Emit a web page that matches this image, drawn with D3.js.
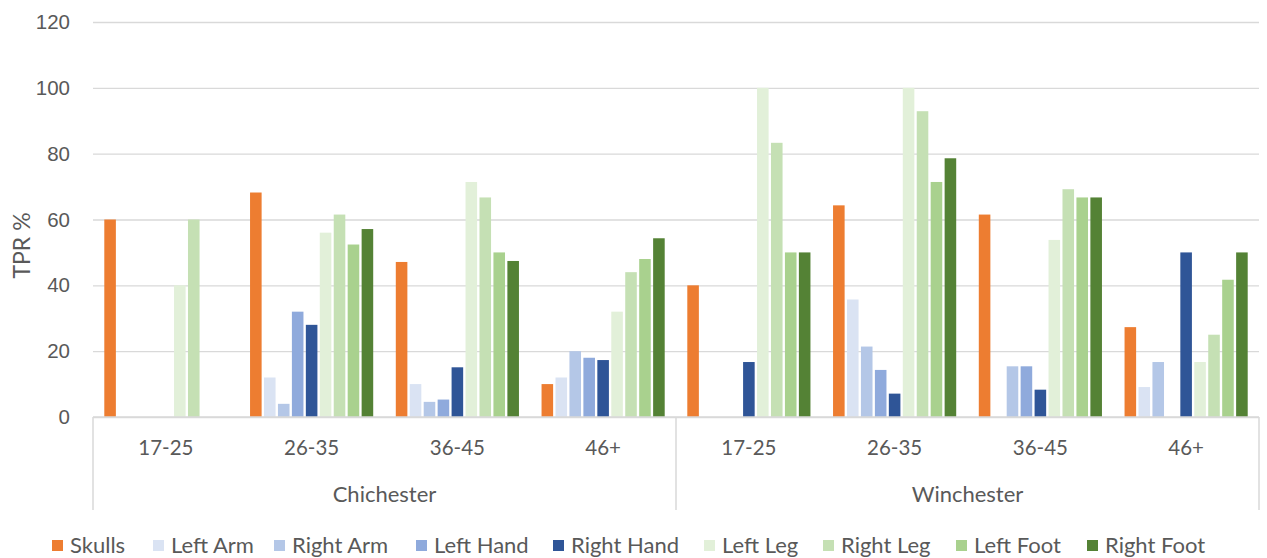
<!DOCTYPE html>
<html>
<head>
<meta charset="utf-8">
<script src="https://cdn.jsdelivr.net/npm/d3@7"></script>
<style>
  html, body { margin: 0; padding: 0; background: #fff; }
  svg { display: block; font-family: Lato, "Open Sans", sans-serif; }
</style>
</head>
<body>
<svg id="chart" width="1267" height="558"></svg>
<script>
// Sites and age bands (two-level category axis)
const sites = ["Chichester", "Winchester"];
const ageBands = ["17-25", "26-35", "36-45", "46+"];

// Skeletal elements (series)
const seriesNames = ["Skulls", "Left Arm", "Right Arm", "Left Hand", "Right Hand",
                     "Left Leg", "Right Leg", "Left Foot", "Right Foot"];
const seriesColors = ["#ED7D31", "#DAE3F3", "#B4C7E7", "#8FAADC", "#2F5597",
                      "#E2F0D9", "#C5E0B4", "#A9D18E", "#548235"];

// TPR % per series, one entry per site/age band (Chichester 17-25 ... Winchester 46+)
const skulls    = [60, 68.2, 47.1, 10,   40,   64.3, 61.5, 27.3];
const leftArm   = [0,  12,   10,   12,   0,    35.7, 0,    9.1];
const rightArm  = [0,  4,    4.6,  20,   0,    21.4, 15.4, 16.7];
const leftHand  = [0,  32,   5.3,  18,   0,    14.3, 15.4, 0];
const rightHand = [0,  28,   15.1, 17.3, 16.7, 7.1,  8.3,  50];
const leftLeg   = [40, 56,   71.4, 32,   100,  100,  53.8, 16.7];
const rightLeg  = [60, 61.5, 66.7, 44,   83.3, 92.9, 69.2, 25];
const leftFoot  = [0,  52.4, 50,   48,   50,   71.4, 66.7, 41.7];
const rightFoot = [0,  57.1, 47.4, 54.3, 50,   78.6, 66.7, 50];

const yTicks = [0, 20, 40, 60, 80, 100, 120];

const seriesValues = [skulls, leftArm, rightArm, leftHand, rightHand,
                      leftLeg, rightLeg, leftFoot, rightFoot];

// Flat category list: site|age
const categories = [];
sites.forEach(s => ageBands.forEach(a => categories.push({ site: s, age: a, key: s + "|" + a })));

const svg = d3.select("#chart");
const textColor = "#595959";
const gridColor = "#D9D9D9";

const plot = { left: 93, right: 1259, top: 22, bottom: 417 };

const x0 = d3.scaleBand()
  .domain(categories.map(c => c.key))
  .range([plot.left, plot.right])
  .padding(0);

const bw = x0.bandwidth();
const clusterPad = bw * 0.0775;
const x1 = d3.scaleBand()
  .domain(seriesNames)
  .range([clusterPad, bw - clusterPad])
  .paddingInner(0.17)
  .paddingOuter(0);

const y = d3.scaleLinear().domain([0, 120]).range([plot.bottom, plot.top]);

// Horizontal gridlines + value labels
const yAxis = d3.axisLeft(y)
  .tickValues(yTicks)
  .tickSize(-(plot.right - plot.left))
  .tickPadding(23)
  .tickFormat(d3.format("d"));

const gy = svg.append("g")
  .attr("transform", `translate(${plot.left},0)`)
  .call(yAxis);
gy.select(".domain").remove();
gy.selectAll(".tick line")
  .attr("stroke", gridColor)
  .attr("stroke-width", 1.3);
gy.selectAll(".tick text")
  .attr("fill", textColor)
  .attr("font-size", 20.5);

// Y axis title
svg.append("text")
  .attr("transform", `translate(30,${(plot.top + plot.bottom) / 2 + 26}) rotate(-90)`)
  .attr("text-anchor", "middle")
  .attr("fill", textColor)
  .attr("font-size", 23)
  .text("TPR %");

// Bars
const catGroups = svg.append("g").selectAll("g")
  .data(categories)
  .join("g")
  .attr("transform", d => `translate(${x0(d.key)},0)`);

catGroups.selectAll("rect")
  .data((d, i) => seriesNames.map((name, s) => ({ name, s, value: seriesValues[s][i] })))
  .join("rect")
  .filter(d => d.value > 0)
  .attr("x", d => x1(d.name))
  .attr("width", x1.bandwidth())
  .attr("y", d => y(d.value))
  .attr("height", d => y(0) - y(d.value))
  .attr("fill", d => seriesColors[d.s]);

// Baseline
svg.append("line")
  .attr("x1", plot.left).attr("x2", plot.right)
  .attr("y1", plot.bottom).attr("y2", plot.bottom)
  .attr("stroke", gridColor).attr("stroke-width", 1.5);

// Group separators of the two-level axis
const sepBottom = 510;
const sepXs = [plot.left, x0(categories[ageBands.length].key), plot.right];
svg.append("g").selectAll("line")
  .data(sepXs)
  .join("line")
  .attr("x1", d => d).attr("x2", d => d)
  .attr("y1", plot.bottom).attr("y2", sepBottom)
  .attr("stroke", gridColor).attr("stroke-width", 1.5);

// Age band labels
svg.append("g").selectAll("text")
  .data(categories)
  .join("text")
  .attr("x", d => x0(d.key) + bw / 2)
  .attr("y", 455)
  .attr("text-anchor", "middle")
  .attr("fill", textColor)
  .attr("font-size", 20.5)
  .text(d => d.age);

// Site labels
svg.append("g").selectAll("text")
  .data(sites)
  .join("text")
  .attr("x", (d, i) => {
    const first = x0(categories[i * ageBands.length].key);
    return first + bw * ageBands.length / 2;
  })
  .attr("y", 502)
  .attr("text-anchor", "middle")
  .attr("fill", textColor)
  .attr("font-size", 22)
  .text(d => d);

// Legend
const legendX = [52, 153, 274, 416, 553, 704, 823, 956, 1087];
const legend = svg.append("g").selectAll("g")
  .data(seriesNames)
  .join("g")
  .attr("transform", (d, i) => `translate(${legendX[i]},540)`);
legend.append("rect")
  .attr("width", 11).attr("height", 11)
  .attr("fill", (d, i) => seriesColors[i]);
legend.append("text")
  .attr("x", 18)
  .attr("y", 13)
  .attr("fill", textColor)
  .attr("font-size", 22)
  .text(d => d);
</script>
</body>
</html>
